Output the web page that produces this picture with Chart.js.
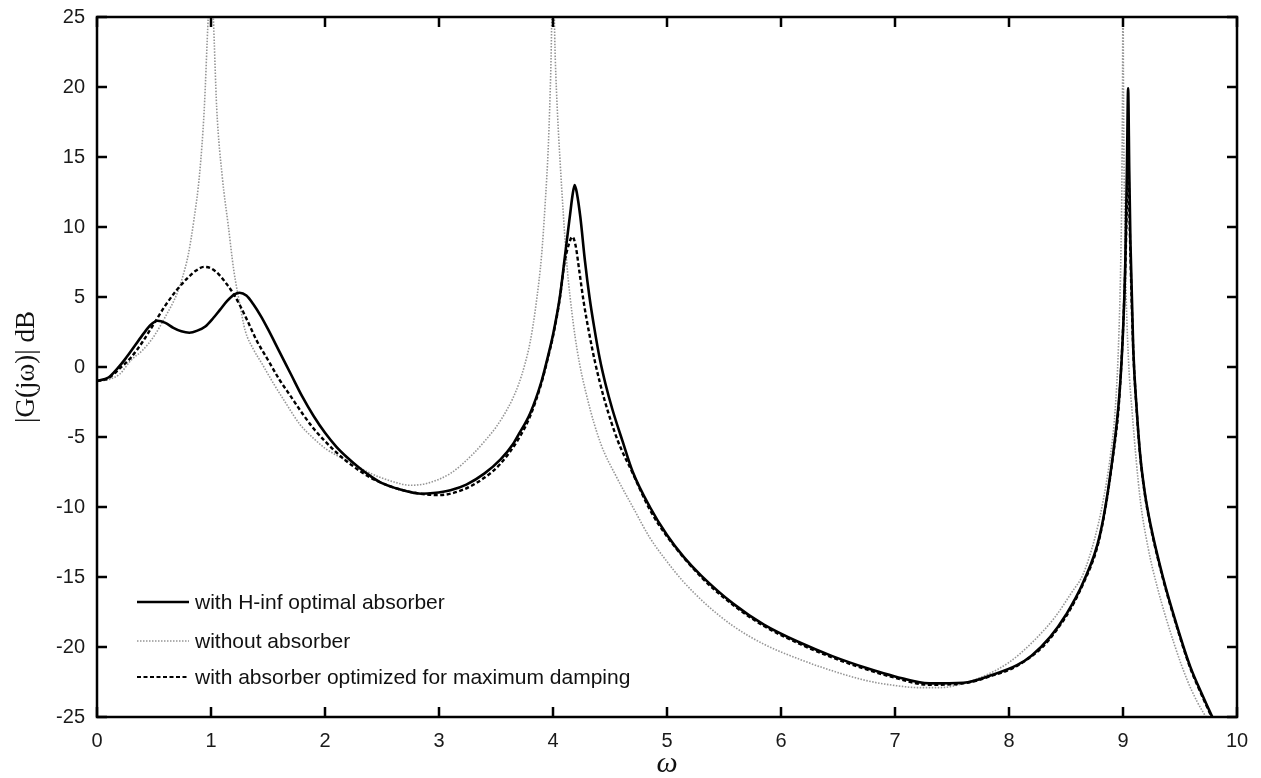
<!DOCTYPE html>
<html>
<head>
<meta charset="utf-8">
<title>|G(jω)| dB</title>
<script src="https://cdn.jsdelivr.net/npm/chart.js@4.4.1/dist/chart.umd.min.js"></script>
<style>
  html, body { margin: 0; padding: 0; background: #ffffff; }
  #wrap { width: 1261px; height: 778px; }
</style>
</head>
<body>
<div id="wrap"><canvas id="c" width="1261" height="778"></canvas></div>
<script>
// Frequency response magnitude |G(jω)| in dB for three configurations.

// Axis ticks
const xTicks = [0, 1, 2, 3, 4, 5, 6, 7, 8, 9, 10];
const yTicks = [-25, -20, -15, -10, -5, 0, 5, 10, 15, 20, 25];

// Series labels
const seriesLabels = [
  'with H-inf optimal absorber',
  'without absorber',
  'with absorber optimized for maximum damping'
];

// With H-inf optimal absorber
const omegaHinf = [0, 0.1, 0.18, 0.25, 0.33, 0.41, 0.47, 0.53, 0.6, 0.67, 0.74, 0.81, 0.88, 0.95, 1.02, 1.08, 1.14, 1.2, 1.25, 1.31,
  1.37, 1.44, 1.5, 1.6, 1.7, 1.8, 1.9, 2.0, 2.1, 2.2, 2.3, 2.4, 2.5, 2.66, 2.85, 2.95, 3.1, 3.24, 3.4, 3.54,
  3.65, 3.7, 3.8, 3.9, 3.96, 4.0, 4.06, 4.1, 4.13, 4.15, 4.17, 4.19, 4.21, 4.24, 4.28, 4.32, 4.36, 4.41, 4.46, 4.52,
  4.61, 4.7, 4.85, 5.0, 5.15, 5.3, 5.58, 5.85, 6.17, 6.45, 6.75, 7.0, 7.3, 7.6, 7.85, 8.07, 8.2, 8.36, 8.5, 8.65,
  8.8, 8.91, 8.97, 9.0, 9.02, 9.035, 9.045, 9.055, 9.065, 9.09, 9.12, 9.15, 9.19, 9.24, 9.35, 9.47, 9.59, 9.7, 9.8];
const dbHinf = [-1.0, -0.75, -0.1, 0.6, 1.5, 2.4, 3.0, 3.3, 3.15, 2.8, 2.55, 2.45, 2.6, 2.9, 3.5, 4.1, 4.7, 5.15, 5.3, 5.1,
  4.5, 3.6, 2.7, 1.1, -0.5, -2.1, -3.5, -4.7, -5.7, -6.5, -7.2, -7.8, -8.3, -8.75, -9.05, -9.0, -8.8, -8.4, -7.6, -6.6,
  -5.5, -4.8, -3.3, -1.0, 0.9, 2.3, 5.0, 7.6, 9.6, 10.9, 12.2, 13.0, 12.4, 10.7, 7.6, 5.0, 2.9, 0.6, -1.2, -3.0,
  -5.3, -7.5, -10.0, -12.0, -13.6, -14.9, -16.9, -18.4, -19.7, -20.65, -21.5, -22.1, -22.6, -22.55, -22.0, -21.3, -20.6, -19.3, -17.7, -15.4,
  -11.9, -6.4, -1.8, 2.5, 7.4, 14.5, 19.9, 14.0, 9.0, 1.3, -3.0, -6.2, -8.9, -11.2, -15.0, -18.4, -21.4, -23.5, -25.3];

// Without absorber
const omegaBare = [0, 0.1, 0.2, 0.3, 0.4, 0.5, 0.6, 0.7, 0.75, 0.8, 0.85, 0.9, 0.94, 0.976, 0.998, 1.02, 1.05, 1.1, 1.15, 1.2,
  1.25, 1.3, 1.37, 1.45, 1.55, 1.65, 1.78, 1.9, 2.0, 2.1, 2.22, 2.4, 2.6, 2.75, 2.9, 3.1, 3.3, 3.4, 3.5, 3.6,
  3.65, 3.7, 3.75, 3.8, 3.85, 3.9, 3.93, 3.96, 3.98, 4.0, 4.02, 4.04, 4.06, 4.09, 4.12, 4.15, 4.21, 4.3, 4.42, 4.56,
  4.7, 4.85, 5.0, 5.14, 5.35, 5.58, 5.85, 6.17, 6.45, 6.75, 7.0, 7.2, 7.4, 7.6, 7.8, 8.0, 8.2, 8.4, 8.55, 8.65,
  8.75, 8.82, 8.89, 8.93, 8.96, 8.98, 8.99, 8.996, 9.0, 9.004, 9.01, 9.02, 9.03, 9.05, 9.08, 9.15, 9.22, 9.3, 9.45, 9.56,
  9.65, 9.75];
const dbBare = [-1.0, -0.9, -0.5, 0.5, 1.2, 2.2, 3.6, 5.2, 6.4, 8.0, 10.5, 13.8, 18.3, 25, 28, 25, 18.5, 13.5, 10.2, 6.9,
  4.6, 2.6, 1.3, 0.2, -1.2, -2.5, -4.1, -5.1, -5.8, -6.3, -6.8, -7.6, -8.2, -8.45, -8.3, -7.6, -6.2, -5.3, -4.3, -3.0,
  -2.2, -1.2, 0.1, 1.8, 4.4, 8.0, 11.5, 16.0, 21.0, 28, 22, 18, 15, 11, 7.5, 5.0, 1.3, -2.2, -5.5, -7.9,
  -10.0, -12.2, -13.9, -15.3, -17.0, -18.5, -19.8, -20.9, -21.7, -22.4, -22.75, -22.9, -22.9, -22.6, -22.0, -21.1, -19.7, -17.9, -16.1, -14.8,
  -12.3, -9.8, -6.3, -3.2, 1.4, 7.4, 13.0, 20, 28, 20, 13.5, 8.0, 4.4, 0.2, -3.2, -9.4, -12.9, -15.7, -19.8, -22.3,
  -23.9, -25.3];

// With absorber optimized for maximum damping
const omegaMaxDamp = [0, 0.1, 0.2, 0.3, 0.4, 0.5, 0.6, 0.7, 0.8, 0.87, 0.94, 1.0, 1.07, 1.14, 1.2, 1.26, 1.32, 1.4, 1.5, 1.6,
  1.7, 1.8, 1.9, 2.0, 2.1, 2.2, 2.4, 2.6, 2.8, 3.0, 3.2, 3.4, 3.54, 3.7, 3.8, 3.9, 3.96, 4.0, 4.06, 4.1,
  4.14, 4.17, 4.2, 4.23, 4.27, 4.32, 4.37, 4.45, 4.57, 4.7, 4.85, 5.0, 5.3, 5.58, 5.85, 6.17, 6.45, 6.75, 7.0, 7.3,
  7.6, 7.85, 8.07, 8.36, 8.65, 8.8, 8.91, 8.97, 9.02, 9.035, 9.045, 9.055, 9.065, 9.09, 9.12, 9.15, 9.19, 9.24, 9.35, 9.47,
  9.59, 9.7, 9.8];
const dbMaxDamp = [-1.0, -0.8, -0.1, 0.7, 1.8, 3.1, 4.4, 5.5, 6.4, 6.9, 7.15, 7.05, 6.6, 5.9, 5.2, 4.3, 3.3, 1.9, 0.5, -0.9,
  -2.1, -3.3, -4.4, -5.3, -6.1, -6.8, -7.9, -8.6, -9.0, -9.15, -8.8, -7.9, -6.9, -5.1, -3.5, -1.1, 0.8, 2.2, 4.9, 7.4,
  8.8, 9.3, 8.6, 6.9, 4.6, 2.3, 0.3, -2.3, -5.3, -7.6, -10.2, -12.1, -15.0, -17.0, -18.5, -19.8, -20.75, -21.6, -22.2, -22.7,
  -22.6, -22.05, -21.35, -19.4, -15.5, -12.0, -6.5, -1.9, 7.0, 12.0, 15.5, 11.5, 8.0, 1.2, -3.1, -6.3, -9.0, -11.3, -15.1, -18.5,
  -21.5, -23.6, -25.4];

const toPoints = (xs, ys) => xs.map((x, i) => ({ x: x, y: ys[i] }));

const SANS = '"Liberation Sans", Arial, Helvetica, sans-serif';
const SERIF = '"Liberation Serif", "Times New Roman", Times, serif';

// Frame, inward tick marks, axis titles and the in-plot legend
const framePlugin = {
  id: 'frameAndLegend',
  afterDatasetsDraw(chart) {
    const { ctx, chartArea: a, scales } = chart;
    const xs = scales.x, ys = scales.y;
    const tickLen = 10;
    ctx.save();
    ctx.strokeStyle = '#000';
    ctx.lineWidth = 2.5;
    ctx.setLineDash([]);
    ctx.beginPath();
    xTicks.forEach(v => {
      const px = xs.getPixelForValue(v);
      ctx.moveTo(px, a.bottom); ctx.lineTo(px, a.bottom - tickLen);
      ctx.moveTo(px, a.top); ctx.lineTo(px, a.top + tickLen);
    });
    yTicks.forEach(v => {
      const py = ys.getPixelForValue(v);
      ctx.moveTo(a.left, py); ctx.lineTo(a.left + tickLen, py);
      ctx.moveTo(a.right, py); ctx.lineTo(a.right - tickLen, py);
    });
    ctx.stroke();
    ctx.strokeRect(a.left, a.top, a.right - a.left, a.bottom - a.top);

    // Axis titles
    ctx.fillStyle = '#111';
    ctx.textAlign = 'center';
    ctx.textBaseline = 'middle';
    ctx.font = 'italic 30px ' + SERIF;
    ctx.fillText('ω', (a.left + a.right) / 2, 764);
    ctx.save();
    ctx.translate(27, (a.top + a.bottom) / 2);
    ctx.rotate(-Math.PI / 2);
    ctx.font = '27px ' + SERIF;
    ctx.fillText('|G(jω)| dB', 0, 0);
    ctx.restore();

    // Legend inside the plot, lower left
    const x0 = a.left + 40, x1 = a.left + 92, tx = a.left + 98;
    const rows = [a.bottom - 115, a.bottom - 76, a.bottom - 40];
    ctx.font = '21px ' + SANS;
    ctx.textAlign = 'left';
    chart.data.datasets.forEach((ds, i) => {
      const y = rows[i];
      ctx.save();
      ctx.strokeStyle = ds.borderColor;
      ctx.lineWidth = ds.legendWidth;
      ctx.setLineDash(ds.borderDash || []);
      ctx.beginPath();
      ctx.moveTo(x0, y); ctx.lineTo(x1, y);
      ctx.stroke();
      ctx.restore();
      ctx.fillStyle = '#111';
      ctx.fillText(ds.label, tx, y + 1);
    });
    ctx.restore();
  }
};

new Chart(document.getElementById('c'), {
  type: 'line',
  data: {
    datasets: [
      {
        label: seriesLabels[0],
        data: toPoints(omegaHinf, dbHinf),
        borderColor: '#000000',
        borderWidth: 2.6,
        legendWidth: 2.4,
        order: 0
      },
      {
        label: seriesLabels[1],
        data: toPoints(omegaBare, dbBare),
        borderColor: '#959595',
        borderWidth: 1.6,
        borderDash: [1.5, 1.5],
        legendWidth: 1.4,
        order: 2
      },
      {
        label: seriesLabels[2],
        data: toPoints(omegaMaxDamp, dbMaxDamp),
        borderColor: '#000000',
        borderWidth: 2.4,
        borderDash: [4, 2.5],
        legendWidth: 2.0,
        order: 1
      }
    ]
  },
  options: {
    responsive: false,
    animation: false,
    devicePixelRatio: 1,
    layout: { padding: { left: 0, right: 24, top: 17, bottom: 0 } },
    elements: {
      point: { radius: 0 },
      line: { cubicInterpolationMode: 'monotone', fill: false, borderCapStyle: 'butt' }
    },
    datasets: { line: { clip: 0 } },
    plugins: { legend: { display: false }, tooltip: { enabled: false } },
    scales: {
      x: {
        type: 'linear',
        min: 0, max: 10,
        afterFit: s => { s.height = 61; s.paddingLeft = 0; s.paddingRight = 0; },
        afterBuildTicks: s => { s.ticks = xTicks.map(v => ({ value: v })); },
        grid: { drawOnChartArea: false, drawTicks: false },
        border: { display: false },
        ticks: { padding: 12, color: '#1a1a1a', font: { family: SANS, size: 20 }, maxRotation: 0 }
      },
      y: {
        type: 'linear',
        min: -25, max: 25,
        afterFit: s => { s.width = 97; s.paddingTop = 0; s.paddingBottom = 0; },
        afterBuildTicks: s => { s.ticks = yTicks.map(v => ({ value: v })); },
        grid: { drawOnChartArea: false, drawTicks: false },
        border: { display: false },
        ticks: { padding: 12, color: '#1a1a1a', font: { family: SANS, size: 20 } }
      }
    }
  },
  plugins: [framePlugin]
});
</script>
</body>
</html>
